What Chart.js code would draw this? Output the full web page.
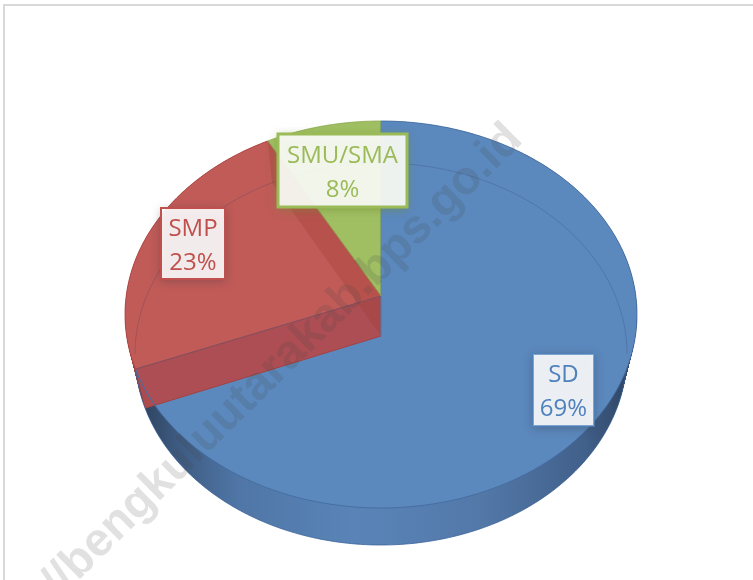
<!DOCTYPE html>
<html>
<head>
<meta charset="utf-8">
<style>
  html, body { margin: 0; padding: 0; background: #fff; }
  #wrap { position: relative; width: 753px; height: 580px; overflow: hidden; }
  #frame { position: absolute; left: 3px; top: 4px; width: 760px; height: 600px; border-left: 2px solid #d9d9d9; border-top: 2px solid #d9d9d9; }
  canvas { position: absolute; left: 0; top: 0; }
</style>
<script src="https://cdn.jsdelivr.net/npm/chart.js@4"></script>
</head>
<body>
<div id="wrap">
  <div id="frame"></div>
  <canvas id="chart" width="753" height="580"></canvas>
</div>
<script>
const categories = ['SD', 'SMP', 'SMU/SMA'];
const shares = [69, 23, 8];
const topColors = ['#5b88bd', '#c05b58', '#a0bf63'];
const lineColors = ['#4f81bd', '#c0504d', '#9bbb59'];
const watermark = 'https://bengkuluutarakab.bps.go.id';

// label boxes: left, top, right, bottom
const labelBoxes = [[533, 354, 594, 426], [161, 208, 225, 279], [278, 134, 407, 207]];

// 3d look: each face is a circle seen in perspective (hub is not the ellipse centre)
const topFace = makeFace(381, 296, 256, 175, 212);
const bottomFace = makeFace(381, 336, 246, 173, 209);

function makeFace(x, y, rx, up, down) {
  const b = (down - up) / (down + up);
  return { x, y, b, a: down * (1 - b), A: rx * Math.sqrt(1 - b * b) };
}

function lerpFace(p, q, s) {
  const out = {};
  for (const k in p) out[k] = p[k] + (q[k] - p[k]) * s;
  return out;
}

function project(f, t) {
  const u = Math.cos(t), v = Math.sin(t), d = 1 - f.b * v;
  return [f.x + f.A * u / d, f.y + f.a * v / d];
}

function rimPath(ctx, f, start, end) {
  const steps = Math.max(2, Math.ceil((end - start) * 60));
  for (let i = 0; i <= steps; i++) {
    const p = project(f, start + (end - start) * i / steps);
    ctx.lineTo(p[0], p[1]);
  }
}

function wedge(ctx, f, start, end) {
  ctx.beginPath();
  ctx.moveTo(f.x, f.y);
  rimPath(ctx, f, start, end);
  ctx.closePath();
}

// side wall of a cut edge, from the top face down to the bottom face
function cutWall(ctx, angle) {
  const a = project(topFace, angle), b = project(bottomFace, angle);
  ctx.beginPath();
  ctx.moveTo(topFace.x, topFace.y);
  ctx.lineTo(a[0], a[1]);
  ctx.lineTo(b[0], b[1]);
  ctx.lineTo(bottomFace.x, bottomFace.y);
  ctx.closePath();
}

const pie3d = {
  id: 'pie3d',
  beforeDatasetsDraw(chart) {
    const ctx = chart.ctx;
    const arcs = chart.getDatasetMeta(0).data;
    const blue = arcs[0], red = arcs[1], green = arcs[2];

    ctx.save();
    ctx.lineJoin = 'round';

    // outer wall, swept from the bottom face up
    const wall = ctx.createLinearGradient(125, 0, 637, 0);
    wall.addColorStop(0, '#27384f');
    wall.addColorStop(0.1, '#3d5a80');
    wall.addColorStop(0.22, '#4f76a6');
    wall.addColorStop(0.45, '#5a84b8');
    wall.addColorStop(0.7, '#5278a8');
    wall.addColorStop(0.9, '#41608a');
    wall.addColorStop(1, '#2b3f5a');
    for (let i = 40; i >= 0; i--) {
      const f = lerpFace(topFace, bottomFace, i / 40);
      wedge(ctx, f, red.startAngle, red.endAngle);
      ctx.fillStyle = '#9c4340';
      ctx.fill();
      wedge(ctx, f, blue.startAngle, blue.endAngle);
      ctx.fillStyle = wall;
      ctx.fill();
    }
    // outline of the lower rim
    ctx.beginPath();
    rimPath(ctx, bottomFace, 0, Math.PI);
    ctx.strokeStyle = 'rgba(60,100,155,.8)';
    ctx.lineWidth = 1;
    ctx.stroke();

    // top faces
    arcs.forEach((el, i) => {
      wedge(ctx, topFace, el.startAngle, el.endAngle);
      ctx.fillStyle = topColors[i];
      ctx.fill();
    });

    // red side wall over the blue face
    cutWall(ctx, blue.endAngle);
    ctx.fillStyle = 'rgba(176,76,78,.96)';
    ctx.fill();
    ctx.beginPath();
    rimPath(ctx, topFace, blue.endAngle - 0.25, blue.endAngle);
    ctx.strokeStyle = '#4f78ad';
    ctx.lineWidth = 1;
    ctx.stroke();

    // red cut seen through the top, next to the green slice
    cutWall(ctx, green.startAngle);
    ctx.fillStyle = 'rgba(160,60,50,.3)';
    ctx.fill();

    // edges
    arcs.forEach((el, i) => {
      wedge(ctx, topFace, el.startAngle, el.endAngle);
      ctx.strokeStyle = i === 0 ? '#41699e' : i === 1 ? '#a8413f' : '#8aa84f';
      ctx.lineWidth = 0.8;
      ctx.stroke();
    });
    const h = project(bottomFace, blue.endAngle);
    ctx.beginPath();
    ctx.moveTo(bottomFace.x, bottomFace.y);
    ctx.lineTo(h[0], h[1]);
    ctx.strokeStyle = '#a34244';
    ctx.lineWidth = 1;
    ctx.stroke();
    ctx.beginPath();
    ctx.moveTo(bottomFace.x, topFace.y);
    ctx.lineTo(bottomFace.x, bottomFace.y);
    ctx.strokeStyle = '#4f78ad';
    ctx.stroke();

    // far rim of the bottom face showing through the top
    ctx.beginPath();
    rimPath(ctx, bottomFace, Math.PI * 0.97, Math.PI * 2.03);
    ctx.strokeStyle = 'rgba(40,50,90,.2)';
    ctx.lineWidth = 1;
    ctx.stroke();

    ctx.restore();
    return false; // arcs are painted here, in perspective
  },
  afterDraw(chart) {
    const ctx = chart.ctx;
    ctx.save();

    // watermark goes under the label boxes
    ctx.save();
    ctx.translate(515, 132);
    ctx.rotate(-44.6 * Math.PI / 180);
    ctx.font = 'bold 47px "Liberation Sans"';
    ctx.textAlign = 'right';
    ctx.textBaseline = 'middle';
    ctx.fillStyle = 'rgba(70,70,70,.16)';
    ctx.fillText(watermark, 0, 0);
    ctx.restore();

    categories.forEach((name, i) => {
      const [l, t, r, b] = labelBoxes[i];
      ctx.save();
      ctx.shadowColor = i === 2 ? 'rgba(110,140,50,.7)' : 'rgba(50,50,60,.4)';
      ctx.shadowBlur = 9;
      ctx.shadowOffsetY = 2;
      ctx.fillStyle = 'rgba(255,255,255,.89)';
      ctx.fillRect(l, t, r - l, b - t);
      ctx.restore();
      ctx.strokeStyle = lineColors[i];
      ctx.globalAlpha = i === 0 ? 0.7 : 1;
      ctx.lineWidth = i === 2 ? 3 : 2;
      ctx.strokeRect(l, t, r - l, b - t);
      ctx.globalAlpha = 1;
      ctx.fillStyle = lineColors[i];
      ctx.font = '24px "Open Sans"';
      ctx.textAlign = 'center';
      ctx.textBaseline = 'alphabetic';
      const cx = (l + r) / 2, cy = (t + b) / 2;
      ctx.fillText(name, cx, cy - 8);
      ctx.fillText(shares[i] + '%', cx, cy + 26);
    });
    ctx.restore();
  }
};

new Chart(document.getElementById('chart'), {
  type: 'pie',
  data: {
    labels: categories,
    datasets: [{ data: shares, backgroundColor: topColors, borderWidth: 0 }]
  },
  options: {
    responsive: false,
    animation: false,
    plugins: { legend: { display: false }, tooltip: { enabled: false } }
  },
  plugins: [pie3d]
});
</script>
</body>
</html>
